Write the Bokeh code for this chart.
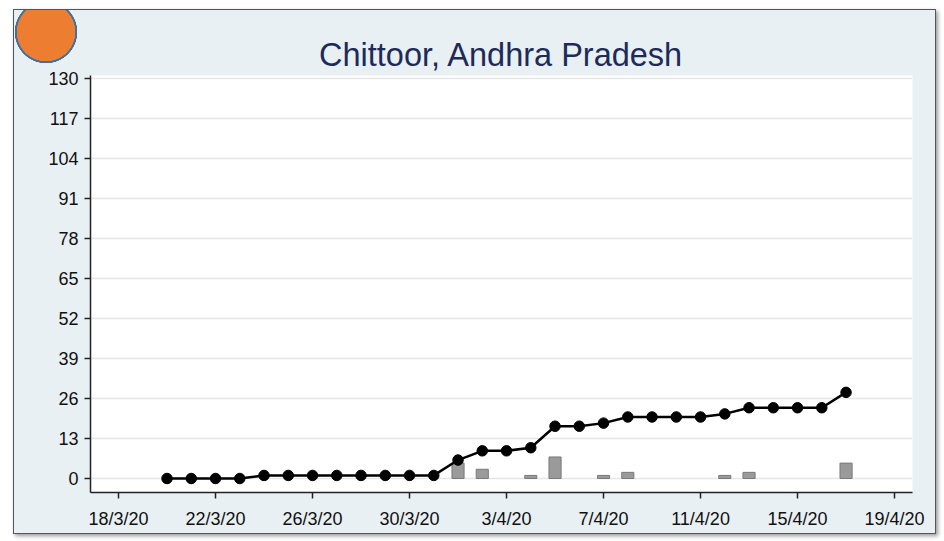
import pandas as pd
from bokeh.plotting import figure
from bokeh.models import FixedTicker, ColumnDataSource
from bokeh.embed import file_html
from bokeh.resources import INLINE

# ---- data ----
dates = ["20/3/20", "21/3/20", "22/3/20", "23/3/20", "24/3/20", "25/3/20", "26/3/20",
         "27/3/20", "28/3/20", "29/3/20", "30/3/20", "31/3/20", "1/4/20", "2/4/20",
         "3/4/20", "4/4/20", "5/4/20", "6/4/20", "7/4/20", "8/4/20", "9/4/20",
         "10/4/20", "11/4/20", "12/4/20", "13/4/20", "14/4/20", "15/4/20", "16/4/20",
         "17/4/20"]
cumulative = [0, 0, 0, 0, 1, 1, 1, 1, 1, 1, 1, 1, 6, 9, 9, 10, 17, 17, 18, 20, 20,
              20, 20, 21, 23, 23, 23, 23, 28]
new_cases = [0, 0, 0, 0, 0, 0, 0, 0, 0, 0, 0, 0, 5, 3, 0, 1, 7, 0, 1, 2, 0,
             0, 0, 1, 2, 0, 0, 0, 5]
x_tick_labels = ["18/3/20", "22/3/20", "26/3/20", "30/3/20", "3/4/20",
                 "7/4/20", "11/4/20", "15/4/20", "19/4/20"]
y_ticks = [0, 13, 26, 39, 52, 65, 78, 91, 104, 117, 130]
title_text = "Chittoor, Andhra Pradesh"

# day offsets from the first tick date
origin = pd.to_datetime(x_tick_labels[0], format="%d/%m/%y")
day = [(pd.to_datetime(d, format="%d/%m/%y") - origin).days for d in dates]
tick_days = [(pd.to_datetime(d, format="%d/%m/%y") - origin).days for d in x_tick_labels]

src = ColumnDataSource(dict(x=day, cum=cumulative))
bar_src = ColumnDataSource(dict(
    x=[d for d, n in zip(day, new_cases) if n > 0],
    new=[n for n in new_cases if n > 0]))

p = figure(width=923, height=525, output_backend="svg", toolbar_location=None,
           x_range=(-1.155, tick_days[-1] + 0.74), y_range=(-4.55, 131),
           min_border_left=76, min_border_right=25, min_border_top=65,
           min_border_bottom=43)

p.title.text = title_text
p.title.align = "center"
p.title.text_font = "Liberation Sans"
p.title.text_font_size = "32.5px"
p.title.text_font_style = "normal"
p.title.text_color = "#1c2b5a"
p.title.standoff = 6

p.background_fill_color = "white"
p.border_fill_color = None
p.outline_line_color = None
# light blue panel with the decorative orange badge in its top-left corner
p.styles = {
    "border": "1px solid #555555",
    "box-shadow": "2px 2px 4px #999999",
    "margin-left": "13px",
    "margin-top": "9px",
    "background": ("radial-gradient(circle 31.5px at 32px 22px, #ed7d31 0px, "
                   "#ed7d31 29px, #41719c 29.5px, #41719c 31px, "
                   "rgba(233,240,244,0) 31.5px), #e9f0f4"),
}

# bars: daily new cases
p.vbar(x="x", top="new", bottom=0, width=0.5, source=bar_src,
       fill_color="#9a9a9a", line_color="#7a7a7a", line_width=1)
# cumulative line with markers
p.line(x="x", y="cum", source=src, line_color="black", line_width=2.5)
p.scatter(x="x", y="cum", source=src, size=10.5, fill_color="black", line_color="black")

# axes
p.xaxis.ticker = FixedTicker(ticks=tick_days)
p.xaxis.major_label_overrides = {t: lab for t, lab in zip(tick_days, x_tick_labels)}
p.yaxis.ticker = FixedTicker(ticks=y_ticks)
for ax in (p.xaxis, p.yaxis):
    ax.axis_line_color = "#222222"
    ax.axis_line_width = 1.5
    ax.major_tick_line_color = "#222222"
    ax.major_tick_line_width = 1.5
    ax.major_tick_out = 6
    ax.major_tick_in = 0
    ax.minor_tick_line_color = None
    ax.major_label_text_font = "Liberation Sans"
    ax.major_label_text_font_size = "18px"
    ax.major_label_text_color = "#111111"
p.xaxis.major_label_standoff = 10
p.yaxis.major_label_standoff = 6

p.xgrid.grid_line_color = None
p.ygrid.grid_line_color = "#e6e6e6"
p.ygrid.grid_line_width = 1.5

open("out.html", "w").write(file_html(p, INLINE))
